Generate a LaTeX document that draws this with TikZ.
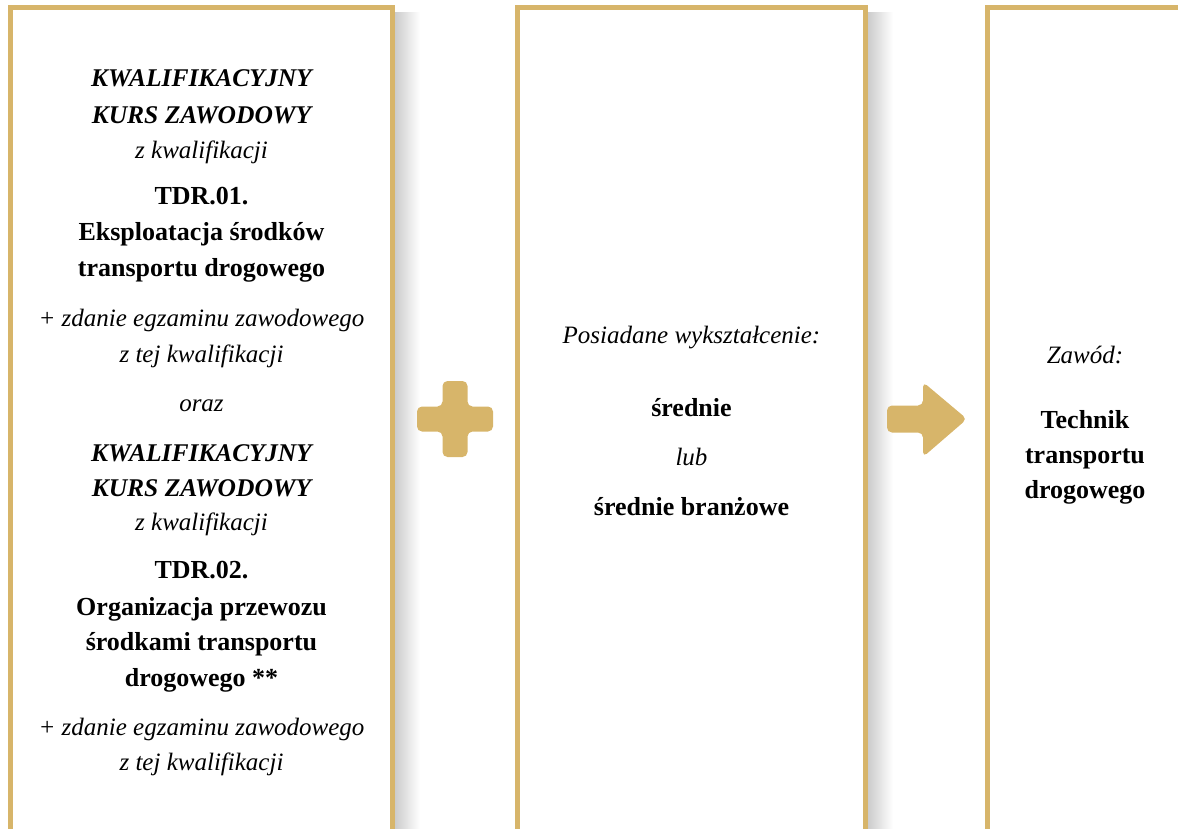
\documentclass[tikz,border=0pt]{standalone}
\usepackage{fontspec}
\setmainfont{Liberation Serif}
\definecolor{gold}{RGB}{215,181,106}
\begin{document}
\begin{tikzpicture}[x=1pt,y=-1pt,
  boxline/.style={draw=gold,line width=5pt},
  txtbi/.style={anchor=base,inner sep=0pt,font=\fontsize{25.5}{30}\selectfont\bfseries\itshape},
  txtit/.style={anchor=base,inner sep=0pt,font=\fontsize{25}{30}\selectfont\itshape},
  txtbf/.style={anchor=base,inner sep=0pt,font=\fontsize{26}{30}\selectfont\bfseries},
  shadowbar/.style={left color=black!20,right color=white,draw=none},
  symb/.style={fill=gold,draw=none,rounded corners=5pt}]
\useasboundingbox (0,0) rectangle (1178,828);
\clip (0,0) rectangle (1178,828);
% shadows
\shade[shadowbar] (395,12) rectangle (420,840);
\shade[shadowbar] (868,12) rectangle (893,840);
% boxes
\draw[boxline] (10.5,840) -- (10.5,7) -- (392.5,7) -- (392.5,840);
\draw[boxline] (517.5,840) -- (517.5,7) -- (865.5,7) -- (865.5,840);
\draw[boxline] (987.5,840) -- (987.5,7) -- (1200,7);
% plus
\fill[symb] (442.5,381) -- (467.5,381) -- (467.5,406.5) -- (493,406.5) -- (493,431.5) -- (467.5,431.5) -- (467.5,457) -- (442.5,457) -- (442.5,431.5) -- (417,431.5) -- (417,406.5) -- (442.5,406.5) -- cycle;
% arrow
\fill[symb] (887,405.5) -- (923,405.5) -- (923,382) -- (967,419) -- (923,457) -- (923,432.5) -- (887,432.5) -- cycle;
% left box
\node[txtbi] (l1) at (201.5,86) {KWALIFIKACYJNY};
\node[txtbi] (l2) at (201.5,123) {KURS ZAWODOWY};
\node[txtit] (l3) at (201.5,158) {z kwalifikacji};
\node[txtbf] (l4) at (201.5,204) {TDR.01.};
\node[txtbf] (l5) at (201.5,240) {Eksploatacja środków};
\node[txtbf] (l6) at (201.5,276) {transportu drogowego};
\node[txtit] (l7) at (201.5,326) {+ zdanie egzaminu zawodowego};
\node[txtit] (l8) at (201.5,362) {z tej kwalifikacji};
\node[txtit] (l9) at (201.5,411) {oraz};
\node[txtbi] (l10) at (201.5,461) {KWALIFIKACYJNY};
\node[txtbi] (l11) at (201.5,496) {KURS ZAWODOWY};
\node[txtit] (l12) at (201.5,530) {z kwalifikacji};
\node[txtbf] (l13) at (201.5,578) {TDR.02.};
\node[txtbf] (l14) at (201.5,615) {Organizacja przewozu};
\node[txtbf] (l15) at (201.5,650) {środkami transportu};
\node[txtbf] (l16) at (201.5,686) {drogowego **};
\node[txtit] (l17) at (201.5,735) {+ zdanie egzaminu zawodowego};
\node[txtit] (l18) at (201.5,770) {z tej kwalifikacji};
% middle box
\node[txtit] (m1) at (691.5,343) {Posiadane wykształcenie:};
\node[txtbf] (m2) at (691.5,416) {średnie};
\node[txtit] (m3) at (691.5,465) {lub};
\node[txtbf] (m4) at (691.5,515) {średnie branżowe};
% right box
\node[txtit] (r1) at (1085,363) {Zawód:};
\node[txtbf] (r2) at (1085,428) {Technik};
\node[txtbf] (r3) at (1085,463) {transportu};
\node[txtbf] (r4) at (1085,498) {drogowego};
\end{tikzpicture}
\end{document}
